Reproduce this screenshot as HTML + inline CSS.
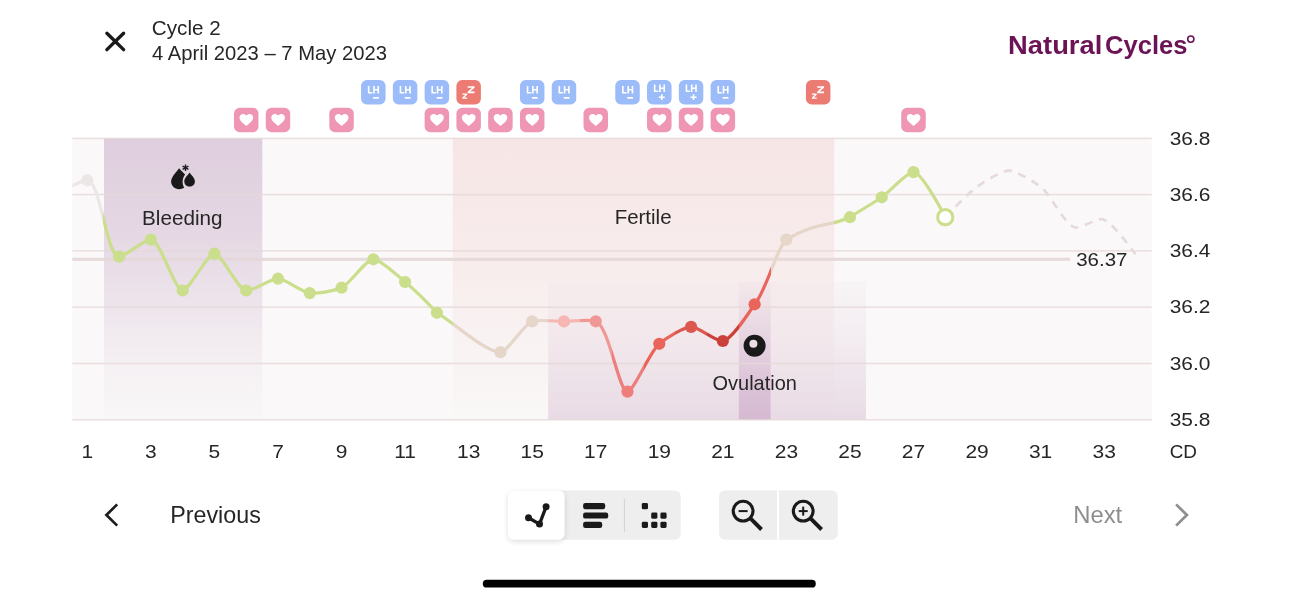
<!DOCTYPE html>
<html><head><meta charset="utf-8"><title>Cycle 2</title>
<style>html,body{margin:0;padding:0;background:#fff;}body{width:1298px;height:600px;overflow:hidden;font-family:"Liberation Sans",sans-serif;}svg{display:block;}text{font-family:"Liberation Sans",sans-serif;}</style></head><body>
<svg width="1298" height="600" viewBox="0 0 1298 600" style="opacity:0.9999;will-change:opacity">
<defs>
<linearGradient id="lg" gradientUnits="userSpaceOnUse" x1="0" y1="0" x2="1298" y2="0"><stop offset="0.03065" stop-color="#ece6e7"/><stop offset="0.05513" stop-color="#ece6e7"/><stop offset="0.05513" stop-color="#ece6e7"/><stop offset="0.07961" stop-color="#ece6e7"/><stop offset="0.07961" stop-color="#cade8c"/><stop offset="0.10409" stop-color="#cade8c"/><stop offset="0.10409" stop-color="#cade8c"/><stop offset="0.12857" stop-color="#cade8c"/><stop offset="0.12857" stop-color="#cade8c"/><stop offset="0.15305" stop-color="#cade8c"/><stop offset="0.15305" stop-color="#cade8c"/><stop offset="0.17753" stop-color="#cade8c"/><stop offset="0.17753" stop-color="#cade8c"/><stop offset="0.20201" stop-color="#cade8c"/><stop offset="0.20201" stop-color="#cade8c"/><stop offset="0.22649" stop-color="#cade8c"/><stop offset="0.22649" stop-color="#cade8c"/><stop offset="0.25097" stop-color="#cade8c"/><stop offset="0.25097" stop-color="#cade8c"/><stop offset="0.27545" stop-color="#cade8c"/><stop offset="0.27545" stop-color="#cade8c"/><stop offset="0.29993" stop-color="#cade8c"/><stop offset="0.29993" stop-color="#cade8c"/><stop offset="0.32441" stop-color="#cade8c"/><stop offset="0.32441" stop-color="#cade8c"/><stop offset="0.34889" stop-color="#cade8c"/><stop offset="0.34889" stop-color="#e6d6ca"/><stop offset="0.37337" stop-color="#e6d6ca"/><stop offset="0.37337" stop-color="#e6d6ca"/><stop offset="0.39785" stop-color="#e6d6ca"/><stop offset="0.39785" stop-color="#e6d6ca"/><stop offset="0.42233" stop-color="#e6d6ca"/><stop offset="0.42233" stop-color="#f5b6b4"/><stop offset="0.44681" stop-color="#f5b6b4"/><stop offset="0.44681" stop-color="#f09896"/><stop offset="0.47129" stop-color="#f09896"/><stop offset="0.47129" stop-color="#ee7d7b"/><stop offset="0.49577" stop-color="#ee7d7b"/><stop offset="0.49577" stop-color="#e9645b"/><stop offset="0.52025" stop-color="#e9645b"/><stop offset="0.52025" stop-color="#dc574e"/><stop offset="0.54473" stop-color="#dc574e"/><stop offset="0.54473" stop-color="#cb403a"/><stop offset="0.56921" stop-color="#cb403a"/><stop offset="0.56921" stop-color="#e9645b"/><stop offset="0.59369" stop-color="#e9645b"/><stop offset="0.59369" stop-color="#e6d6ca"/><stop offset="0.61817" stop-color="#e6d6ca"/><stop offset="0.61817" stop-color="#e6d6ca"/><stop offset="0.64265" stop-color="#e6d6ca"/><stop offset="0.64265" stop-color="#cade8c"/><stop offset="0.66713" stop-color="#cade8c"/><stop offset="0.66713" stop-color="#cade8c"/><stop offset="0.69161" stop-color="#cade8c"/><stop offset="0.69161" stop-color="#cade8c"/><stop offset="0.71609" stop-color="#cade8c"/><stop offset="0.71609" stop-color="#cade8c"/><stop offset="0.74057" stop-color="#cade8c"/><stop offset="0.74057" stop-color="#cade8c"/><stop offset="0.76505" stop-color="#cade8c"/><stop offset="0.76505" stop-color="#cade8c"/><stop offset="0.78953" stop-color="#cade8c"/><stop offset="0.78953" stop-color="#cade8c"/><stop offset="0.81401" stop-color="#cade8c"/><stop offset="0.81401" stop-color="#cade8c"/><stop offset="0.83849" stop-color="#cade8c"/><stop offset="0.83849" stop-color="#cade8c"/><stop offset="0.86297" stop-color="#cade8c"/><stop offset="0.86297" stop-color="#cade8c"/><stop offset="0.88745" stop-color="#cade8c"/><stop offset="0.88745" stop-color="#cade8c"/><stop offset="0.91193" stop-color="#cade8c"/></linearGradient>
<linearGradient id="gBleed" x1="0" y1="0" x2="0" y2="1"><stop offset="0" stop-color="#dccadb" stop-opacity="0.9"/><stop offset="0.3" stop-color="#dccadb" stop-opacity="0.74"/><stop offset="0.5" stop-color="#dccadb" stop-opacity="0.53"/><stop offset="0.7" stop-color="#dccadb" stop-opacity="0.29"/><stop offset="0.85" stop-color="#dccadb" stop-opacity="0.12"/><stop offset="1" stop-color="#dccadb" stop-opacity="0.03"/></linearGradient>
<linearGradient id="gFert" x1="0" y1="0" x2="0" y2="1"><stop offset="0" stop-color="#f2d0cf" stop-opacity="0.46"/><stop offset="0.4" stop-color="#f2d0cf" stop-opacity="0.31"/><stop offset="0.75" stop-color="#f2d0cf" stop-opacity="0.13"/><stop offset="1" stop-color="#f2d0cf" stop-opacity="0.02"/></linearGradient>
<linearGradient id="gOvW" x1="0" y1="0" x2="0" y2="1"><stop offset="0" stop-color="#dcc6d8" stop-opacity="0.07"/><stop offset="0.3" stop-color="#dcc6d8" stop-opacity="0.18"/><stop offset="0.6" stop-color="#dcc6d8" stop-opacity="0.34"/><stop offset="1" stop-color="#dcc6d8" stop-opacity="0.58"/></linearGradient>
<linearGradient id="gOvD" x1="0" y1="0" x2="0" y2="1"><stop offset="0" stop-color="#cfaecb" stop-opacity="0.04"/><stop offset="1" stop-color="#cfaecb" stop-opacity="0.75"/></linearGradient>
<clipPath id="chartclip"><rect x="72.30" y="118.4" width="1079.50" height="321.4"/></clipPath>
<filter id="sh" x="-30%" y="-30%" width="160%" height="160%"><feGaussianBlur in="SourceAlpha" stdDeviation="3"/><feOffset dx="0" dy="2"/><feComponentTransfer><feFuncA type="linear" slope="0.14"/></feComponentTransfer><feMerge><feMergeNode/><feMergeNode in="SourceGraphic"/></feMerge></filter>
<g id="lhm"><rect width="24.5" height="24.5" rx="5.8" fill="#9bbcf9"/><path d="M7.6 6V12.8H11.3M12.9 6V13.6M17.2 6V13.6M12.9 9.8H17.2" fill="none" stroke="#fff" stroke-width="1.6"/><path d="M12 17.85H17.8" stroke="#fff" stroke-width="1.7"/></g>
<g id="lhp"><rect width="24.5" height="24.5" rx="5.8" fill="#9bbcf9"/><path d="M7.6 4.5V11.3H11.3M12.9 4.5V12.1M17.2 4.5V12.1M12.9 8.3H17.2" fill="none" stroke="#fff" stroke-width="1.6"/><path d="M11.7 17.2H17.7M14.7 14.2V20.1" stroke="#fff" stroke-width="1.6" fill="none"/></g>
<g id="zz"><rect width="24.5" height="24.5" rx="5.8" fill="#ec7b73"/><path d="M11.3 6.2H18.1V7.7L13.8 11.6H18.1V13.2H11.3V11.7L15.6 7.8H11.3Z" fill="#fff"/><path d="M6 13.6H10.8V14.8L7.9 17.5H10.8V18.7H6V17.5L8.9 14.8H6Z" fill="#fff"/></g>
<g id="ht"><rect width="24.5" height="24.5" rx="5.8" fill="#ee96b3"/><path d="M12.35 18.35 C9.2 15.7 5.5 13.2 5.5 9.9 C5.5 7.8 7.1 6.25 9.1 6.25 C10.4 6.25 11.6 6.9 12.35 8.0 C13.1 6.9 14.3 6.25 15.6 6.25 C17.6 6.25 19.2 7.8 19.2 9.9 C19.2 13.2 15.5 15.7 12.35 18.35Z" fill="#fff"/></g>
</defs>
<rect x="72.30" y="138.4" width="1079.50" height="281.40" fill="#faf8f8"/>
<rect x="104.0" y="138.4" width="158.3" height="281.40" fill="url(#gBleed)"/>
<rect x="452.86" y="138.4" width="381.30" height="281.40" fill="url(#gFert)"/>
<rect x="548.19" y="281.3" width="317.75" height="138.50" fill="url(#gOvW)"/>
<rect x="738.84" y="281.3" width="31.78" height="138.50" fill="url(#gOvD)"/>
<rect x="72.30" y="137.65" width="1079.50" height="1.5" fill="#e6d8d8" fill-opacity="0.8"/>
<rect x="72.30" y="193.85" width="1079.50" height="1.5" fill="#e6d8d8" fill-opacity="0.8"/>
<rect x="72.30" y="250.15" width="1079.50" height="1.5" fill="#e6d8d8" fill-opacity="0.8"/>
<rect x="72.30" y="306.45" width="1079.50" height="1.5" fill="#e6d8d8" fill-opacity="0.8"/>
<rect x="72.30" y="362.75" width="1079.50" height="1.5" fill="#e6d8d8" fill-opacity="0.8"/>
<rect x="72.30" y="419.05" width="1079.50" height="1.5" fill="#e6d8d8" fill-opacity="0.8"/>
<rect x="72.30" y="257.8" width="997.70" height="3" fill="#e4d6d7" fill-opacity="0.9"/>
<g clip-path="url(#chartclip)"><path d="M55.57 194.40C55.57 194.40 81.20 179.99 87.35 180.30C100.76 180.98 106.12 256.56 119.12 256.60C125.28 256.62 144.54 239.12 150.90 239.60C160.96 240.35 174.42 290.80 182.67 290.50C189.51 290.25 207.04 253.70 214.45 253.70C221.86 253.70 237.16 289.11 246.22 290.50C252.78 291.51 270.68 278.48 278.00 278.70C285.51 278.93 302.08 292.18 309.77 293.10C316.94 293.96 334.86 290.66 341.55 287.70C350.16 283.89 365.60 259.51 373.32 259.30C380.47 259.11 398.06 276.17 405.10 282.00C412.98 288.52 429.86 305.16 436.88 312.80C452.71 321.42 484.59 352.18 500.42 352.20C507.44 352.22 523.31 324.46 532.20 321.40C538.80 319.13 556.56 321.41 563.98 321.40C571.39 321.39 589.60 319.02 595.75 321.30C609.41 326.36 618.83 392.72 627.52 391.60C634.19 390.74 649.55 351.84 659.30 343.80C665.71 338.51 683.54 327.12 691.08 326.90C698.38 326.69 716.25 341.81 722.85 341.00C731.76 339.91 748.13 313.69 754.62 304.30C765.82 291.99 777.28 246.41 786.40 239.60C815.71 221.60 830.51 226.82 849.95 217.20C857.25 212.35 874.55 202.35 881.73 197.30C889.42 191.88 906.86 172.00 913.50 172.10C922.26 172.23 945.27 217.20 945.27 217.20" fill="none" stroke="url(#lg)" stroke-width="3.2" stroke-linejoin="round"/></g>
<path d="M945.27 217.30C945.27 217.30 968.77 192.41 977.05 186.70C983.87 182.00 1001.41 170.70 1008.82 170.70C1016.24 170.70 1033.92 181.81 1040.60 186.70C1050.28 193.79 1065.38 226.32 1075.50 227.50C1081.14 228.16 1096.62 218.48 1102.30 219.20C1111.52 220.36 1135.30 254.20 1135.30 254.20" fill="none" stroke="#e6dada" stroke-width="2.7" stroke-dasharray="8 7"/>
<circle cx="87.35" cy="180.3" r="6.1" fill="#ece6e7"/>
<circle cx="119.12" cy="256.6" r="6.1" fill="#cade8c"/>
<circle cx="150.90" cy="239.6" r="6.1" fill="#cade8c"/>
<circle cx="182.67" cy="290.5" r="6.1" fill="#cade8c"/>
<circle cx="214.45" cy="253.7" r="6.1" fill="#cade8c"/>
<circle cx="246.22" cy="290.5" r="6.1" fill="#cade8c"/>
<circle cx="278.00" cy="278.7" r="6.1" fill="#cade8c"/>
<circle cx="309.77" cy="293.1" r="6.1" fill="#cade8c"/>
<circle cx="341.55" cy="287.7" r="6.1" fill="#cade8c"/>
<circle cx="373.32" cy="259.3" r="6.1" fill="#cade8c"/>
<circle cx="405.10" cy="282.0" r="6.1" fill="#cade8c"/>
<circle cx="436.88" cy="312.8" r="6.1" fill="#cade8c"/>
<circle cx="500.42" cy="352.2" r="6.1" fill="#e6d6ca"/>
<circle cx="532.20" cy="321.4" r="6.1" fill="#e6d6ca"/>
<circle cx="563.98" cy="321.4" r="6.1" fill="#f5b6b4"/>
<circle cx="595.75" cy="321.3" r="6.1" fill="#f09896"/>
<circle cx="627.52" cy="391.6" r="6.1" fill="#ee7d7b"/>
<circle cx="659.30" cy="343.8" r="6.1" fill="#e9645b"/>
<circle cx="691.08" cy="326.9" r="6.1" fill="#dc574e"/>
<circle cx="722.85" cy="341.0" r="6.1" fill="#cb403a"/>
<circle cx="754.62" cy="304.3" r="6.1" fill="#e9645b"/>
<circle cx="786.40" cy="239.6" r="6.1" fill="#e6d6ca"/>
<circle cx="849.95" cy="217.2" r="6.1" fill="#cade8c"/>
<circle cx="881.73" cy="197.3" r="6.1" fill="#cade8c"/>
<circle cx="913.50" cy="172.1" r="6.1" fill="#cade8c"/>
<circle cx="945.27" cy="217.2" r="7.6" fill="#fff" stroke="#cade8c" stroke-width="3"/>
<use href="#lhm" x="361.07" y="80"/>
<use href="#lhm" x="392.85" y="80"/>
<use href="#lhm" x="424.62" y="80"/>
<use href="#lhm" x="519.95" y="80"/>
<use href="#lhm" x="551.73" y="80"/>
<use href="#lhm" x="615.27" y="80"/>
<use href="#lhm" x="710.60" y="80"/>
<use href="#lhp" x="647.05" y="80"/>
<use href="#lhp" x="678.83" y="80"/>
<use href="#zz" x="456.40" y="80"/>
<use href="#zz" x="805.92" y="80"/>
<use href="#ht" x="233.97" y="107.7"/>
<use href="#ht" x="265.75" y="107.7"/>
<use href="#ht" x="329.30" y="107.7"/>
<use href="#ht" x="424.62" y="107.7"/>
<use href="#ht" x="456.40" y="107.7"/>
<use href="#ht" x="488.17" y="107.7"/>
<use href="#ht" x="519.95" y="107.7"/>
<use href="#ht" x="583.50" y="107.7"/>
<use href="#ht" x="647.05" y="107.7"/>
<use href="#ht" x="678.83" y="107.7"/>
<use href="#ht" x="710.60" y="107.7"/>
<use href="#ht" x="901.25" y="107.7"/>
<text transform="translate(151.87 35.00) scale(1.043 1)" font-size="19.8" font-weight="400" fill="#262626" text-anchor="start">Cycle 2</text>
<text transform="translate(152.10 59.80) scale(1.021 1)" font-size="19.8" font-weight="400" fill="#262626" text-anchor="start">4 April 2023 – 7 May 2023</text>
<text transform="translate(142.04 224.60) scale(1.045 1)" font-size="19.8" font-weight="400" fill="#262626" text-anchor="start">Bleeding</text>
<text transform="translate(614.66 224.40) scale(1.035 1)" font-size="19.8" font-weight="400" fill="#262626" text-anchor="start">Fertile</text>
<text transform="translate(712.50 390.20) scale(1.01 1)" font-size="19.8" font-weight="400" fill="#262626" text-anchor="start">Ovulation</text>
<text transform="translate(1169.66 144.60) scale(1.108 1)" font-size="18.9" font-weight="400" fill="#262626" text-anchor="start">36.8</text>
<text transform="translate(1169.66 200.80) scale(1.108 1)" font-size="18.9" font-weight="400" fill="#262626" text-anchor="start">36.6</text>
<text transform="translate(1169.66 257.10) scale(1.108 1)" font-size="18.9" font-weight="400" fill="#262626" text-anchor="start">36.4</text>
<text transform="translate(1169.66 313.40) scale(1.108 1)" font-size="18.9" font-weight="400" fill="#262626" text-anchor="start">36.2</text>
<text transform="translate(1169.66 369.70) scale(1.108 1)" font-size="18.9" font-weight="400" fill="#262626" text-anchor="start">36.0</text>
<text transform="translate(1169.66 426.00) scale(1.108 1)" font-size="18.9" font-weight="400" fill="#262626" text-anchor="start">35.8</text>
<text transform="translate(1076.18 266.00) scale(1.085 1)" font-size="18.9" font-weight="400" fill="#262626" text-anchor="start">36.37</text>
<text transform="translate(1169.65 458.00) scale(1.0 1)" font-size="18.9" font-weight="400" fill="#262626" text-anchor="start">CD</text>
<text transform="translate(87.35 457.7) scale(1.11 1)" font-size="18.9" fill="#262626" text-anchor="middle">1</text>
<text transform="translate(150.90 457.7) scale(1.11 1)" font-size="18.9" fill="#262626" text-anchor="middle">3</text>
<text transform="translate(214.45 457.7) scale(1.11 1)" font-size="18.9" fill="#262626" text-anchor="middle">5</text>
<text transform="translate(278.00 457.7) scale(1.11 1)" font-size="18.9" fill="#262626" text-anchor="middle">7</text>
<text transform="translate(341.55 457.7) scale(1.11 1)" font-size="18.9" fill="#262626" text-anchor="middle">9</text>
<text transform="translate(405.10 457.7) scale(1.11 1)" font-size="18.9" fill="#262626" text-anchor="middle">11</text>
<text transform="translate(468.65 457.7) scale(1.11 1)" font-size="18.9" fill="#262626" text-anchor="middle">13</text>
<text transform="translate(532.20 457.7) scale(1.11 1)" font-size="18.9" fill="#262626" text-anchor="middle">15</text>
<text transform="translate(595.75 457.7) scale(1.11 1)" font-size="18.9" fill="#262626" text-anchor="middle">17</text>
<text transform="translate(659.30 457.7) scale(1.11 1)" font-size="18.9" fill="#262626" text-anchor="middle">19</text>
<text transform="translate(722.85 457.7) scale(1.11 1)" font-size="18.9" fill="#262626" text-anchor="middle">21</text>
<text transform="translate(786.40 457.7) scale(1.11 1)" font-size="18.9" fill="#262626" text-anchor="middle">23</text>
<text transform="translate(849.95 457.7) scale(1.11 1)" font-size="18.9" fill="#262626" text-anchor="middle">25</text>
<text transform="translate(913.50 457.7) scale(1.11 1)" font-size="18.9" fill="#262626" text-anchor="middle">27</text>
<text transform="translate(977.05 457.7) scale(1.11 1)" font-size="18.9" fill="#262626" text-anchor="middle">29</text>
<text transform="translate(1040.60 457.7) scale(1.11 1)" font-size="18.9" fill="#262626" text-anchor="middle">31</text>
<text transform="translate(1104.15 457.7) scale(1.11 1)" font-size="18.9" fill="#262626" text-anchor="middle">33</text>
<text transform="translate(170.24 523.10) scale(1.004 1)" font-size="23.2" font-weight="400" fill="#262626" text-anchor="start">Previous</text>
<text transform="translate(1073.19 523.10) scale(1.028 1)" font-size="23.2" font-weight="400" fill="#8e8e8e" text-anchor="start">Next</text>
<path d="M117.2 504.4L106.4 515L117.2 525.6" fill="none" stroke="#1d1d1d" stroke-width="2.7"/>
<path d="M1176.1 504.4L1186.9 515L1176.1 525.6" fill="none" stroke="#8e8e8e" stroke-width="2.7"/>
<path d="M106.9 33.2L123.6 49.6M123.6 33.2L106.9 49.6" fill="none" stroke="#1a1a1a" stroke-width="3.4" stroke-linecap="round"/>
<text transform="translate(1008.09 54.00) scale(1.066 1)" font-size="25.65" font-weight="700" fill="#6c1356" text-anchor="start">Natural</text>
<text transform="translate(1105.08 54.00) scale(0.997 1)" font-size="25.65" font-weight="700" fill="#6c1356" text-anchor="start">Cycles</text>
<circle cx="1190.8" cy="39.1" r="3.1" fill="none" stroke="#6c1356" stroke-width="1.6"/>
<g fill="#1a1a1a">
<path d="M179.1 168.2 C177.6 170.8 171.1 176.2 171.1 181.6 C171.1 186 174.8 189.3 179.1 189.3 C181 189.3 182.8 188.7 184.3 187.6 C183 185.9 182.6 183.8 182.6 181.8 C182.6 179 183.7 176.6 185.1 174.6 C183.4 172.4 180.3 170.2 179.1 168.2Z"/>
<path d="M189.6 172.5 C188.6 174.5 184.3 177.8 184.3 181.4 C184.3 184.3 186.7 186.6 189.6 186.6 C192.5 186.6 194.9 184.3 194.9 181.4 C194.9 177.8 190.6 174.5 189.6 172.5Z"/>
</g>
<path d="M185.5 164.4V171M182.6 166.1L188.4 169.3M188.4 166.1L182.6 169.3" stroke="#1a1a1a" stroke-width="1.35" fill="none"/>
<circle cx="754.6" cy="345.7" r="11" fill="#1a1a1a"/><circle cx="753.4" cy="343.7" r="4" fill="#ecdde6"/>
<rect x="508" y="490.6" width="172.7" height="49.1" rx="6" fill="#eeeeee"/>
<rect x="508" y="490.6" width="56.5" height="49.1" rx="6" fill="#fff" filter="url(#sh)"/>
<rect x="623.9" y="498.6" width="1" height="33.5" fill="#d2d2d2"/>
<g fill="#1a1a1a" stroke="#1a1a1a"><path d="M528.5 517.7L539.5 524.1L546.1 506.7" fill="none" stroke-width="3.3" stroke-linejoin="round"/><circle cx="528.5" cy="517.7" r="3.5" stroke="none"/><circle cx="539.5" cy="524.1" r="3.5" stroke="none"/><circle cx="546.1" cy="506.7" r="3.5" stroke="none"/></g>
<g fill="#1a1a1a"><rect x="583.1" y="503.1" width="22.1" height="6.1" rx="2.2"/><rect x="583.1" y="512.5" width="25.1" height="6.1" rx="2.2"/><rect x="583.1" y="521.8" width="19.1" height="6.1" rx="2.2"/></g>
<g fill="#1a1a1a"><rect x="641.8" y="503.1" width="6.2" height="6.2" rx="1.4"/><rect x="651.2" y="512.5" width="6.2" height="6.2" rx="1.4"/><rect x="660.4" y="512.5" width="6.2" height="6.2" rx="1.4"/><rect x="641.8" y="521.8" width="6.2" height="6.2" rx="1.4"/><rect x="651.2" y="521.8" width="6.2" height="6.2" rx="1.4"/><rect x="660.4" y="521.8" width="6.2" height="6.2" rx="1.4"/></g>
<rect x="719" y="490.6" width="118.8" height="49.1" rx="6" fill="#eeeeee"/>
<rect x="777.1" y="490.6" width="2" height="49.1" fill="#fff"/>
<circle cx="743.1" cy="511.1" r="9.9" fill="none" stroke="#1a1a1a" stroke-width="3.1"/>
<path d="M750.7 518.7L761.5 529.5" stroke="#1a1a1a" stroke-width="3.9" fill="none"/>
<path d="M738.6 511.1H747.6" stroke="#1a1a1a" stroke-width="2" fill="none"/>
<circle cx="803.2" cy="511.1" r="9.9" fill="none" stroke="#1a1a1a" stroke-width="3.1"/>
<path d="M810.8000000000001 518.7L821.6 529.5" stroke="#1a1a1a" stroke-width="3.9" fill="none"/>
<path d="M798.7 511.1H807.7" stroke="#1a1a1a" stroke-width="2" fill="none"/>
<path d="M803.2 506.6V515.6" stroke="#1a1a1a" stroke-width="2" fill="none"/>
<rect x="482.8" y="579.8" width="333" height="7.8" rx="3.9" fill="#000"/>
</svg></body></html>
